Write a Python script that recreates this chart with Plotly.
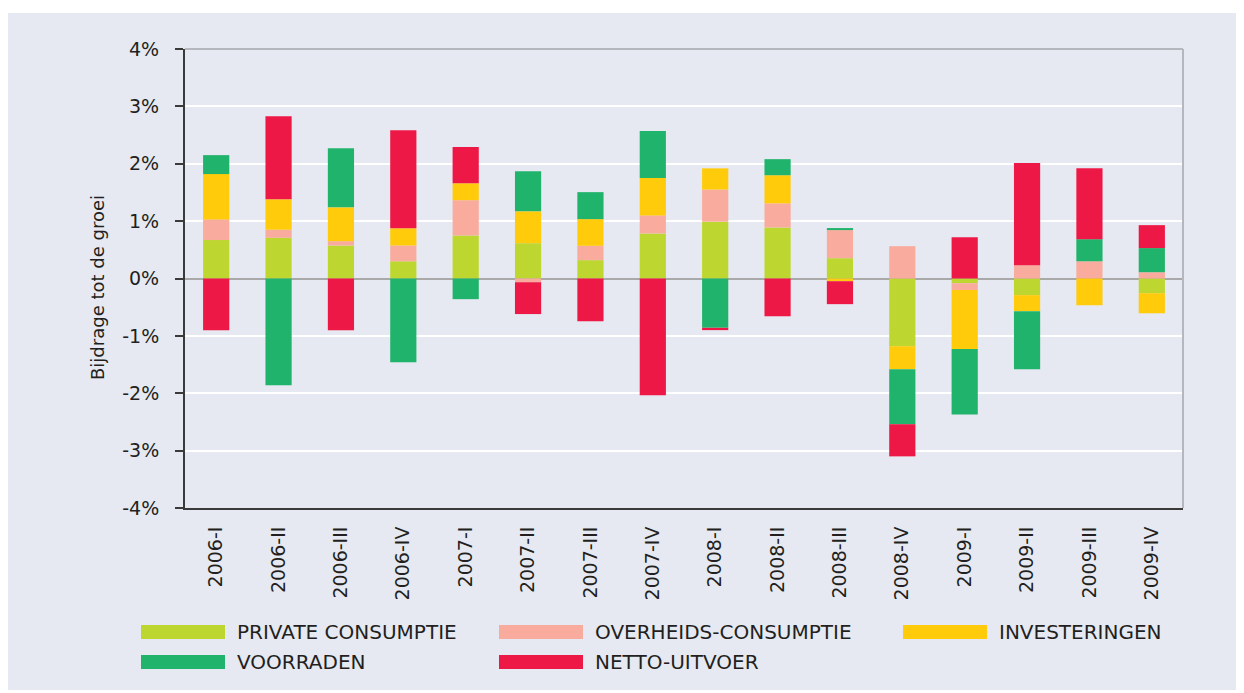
import plotly.graph_objects as go

quarters = ["2006-I", "2006-II", "2006-III", "2006-IV",
            "2007-I", "2007-II", "2007-III", "2007-IV",
            "2008-I", "2008-II", "2008-III", "2008-IV",
            "2009-I", "2009-II", "2009-III", "2009-IV"]

private_consumptie = [0.67, 0.71, 0.575, 0.30, 0.75, 0.615, 0.32, 0.785,
                      0.99, 0.89, 0.354, -1.18, -0.082, -0.29, 0.0, -0.256]
overheids_consumptie = [0.36, 0.14, 0.075, 0.275, 0.615, -0.065, 0.25, 0.315,
                        0.56, 0.42, 0.49, 0.563, -0.118, 0.232, 0.30, 0.11]
investeringen = [0.79, 0.53, 0.59, 0.30, 0.295, 0.555, 0.465, 0.65,
                 0.37, 0.49, -0.047, -0.40, -1.03, -0.28, -0.466, -0.35]
voorraden = [0.33, -1.86, 1.03, -1.46, -0.36, 0.70, 0.47, 0.82,
             -0.86, 0.28, 0.035, -0.96, -1.14, -1.01, 0.385, 0.42]
netto_uitvoer = [-0.90, 1.45, -0.90, 1.71, 0.63, -0.555, -0.745, -2.035,
                 -0.04, -0.66, -0.40, -0.56, 0.72, 1.78, 1.235, 0.40]

series_names = ["PRIVATE CONSUMPTIE", "OVERHEIDS-CONSUMPTIE", "INVESTERINGEN",
                "VOORRADEN", "NETTO-UITVOER"]
series_values = [private_consumptie, overheids_consumptie, investeringen,
                 voorraden, netto_uitvoer]
colors = ["#BDD730", "#F9AB9D", "#FFCB0B", "#20B36B", "#EE1846"]

y_ticks = [-4, -3, -2, -1, 0, 1, 2, 3, 4]
y_ticklabels = ["-4%", "-3%", "-2%", "-1%", "0%", "1%", "2%", "3%", "4%"]

# the page body has an 8px default margin: work in page pixels, convert
OFF = 8
W, H = 1244 - OFF, 693 - OFF
L, R, T, B = 185 - OFF, 1183 - OFF, 49 - OFF, 508 - OFF
PW, PH = R - L, B - T


def px(x):
    return (x - OFF - L) / PW


def py(y):
    return (B - (y - OFF)) / PH


FONT = "DejaVu Sans"
TXT = "#231F20"

fig = go.Figure()
for name, vals, col in zip(series_names, series_values, colors):
    fig.add_trace(go.Bar(x=quarters, y=vals, name=name, marker_color=col,
                         marker_line_width=0, showlegend=False))

shapes = [
    # outer panel background
    dict(type="rect", xref="paper", yref="paper", x0=px(0), x1=px(1237),
         y0=py(690), y1=py(13), fillcolor="#E6E9F1", line_width=0, layer="below"),
    # top and right borders of plot area
    dict(type="line", xref="paper", yref="paper", x0=0, x1=1, y0=1, y1=1,
         line=dict(color="#B4B7BD", width=2)),
    dict(type="line", xref="paper", yref="paper", x0=1, x1=1, y0=0, y1=1,
         line=dict(color="#B4B7BD", width=2)),
]

annotations = [
    dict(text="Bijdrage tot de groei", xref="paper", yref="paper",
         x=px(97), y=py(288), textangle=-90, showarrow=False,
         font=dict(family=FONT, size=18, color=TXT), xanchor="center", yanchor="middle"),
]

legend_pos = [(141, 632), (499, 632), (903, 632), (141, 662), (499, 662)]
for (lx, ly), name, col in zip(legend_pos, series_names, colors):
    shapes.append(dict(type="rect", xref="paper", yref="paper",
                       x0=px(lx), x1=px(lx + 84), y0=py(ly + 7), y1=py(ly - 7),
                       fillcolor=col, line_width=0))
    annotations.append(dict(text=name, xref="paper", yref="paper",
                            x=px(lx + 94), y=py(ly), xanchor="left", yanchor="middle",
                            showarrow=False, font=dict(family=FONT, size=20, color=TXT)))

fig.update_layout(
    width=W, height=H,
    margin=dict(l=L, r=W - R, t=T, b=H - B, pad=0),
    paper_bgcolor="white",
    plot_bgcolor="#D2D9E3",
    barmode="relative",
    bargap=0.58,
    showlegend=False,
    shapes=shapes,
    annotations=annotations,
    font=dict(family=FONT, color=TXT),
    xaxis=dict(
        tickangle=-90, showgrid=False, ticks="",
        tickfont=dict(family=FONT, size=19, color=TXT),
        showline=True, linecolor="#3a3a3a", linewidth=2,
        ticklabelstandoff=9,
    ),
    yaxis=dict(
        range=[-4, 4], tickvals=y_ticks, ticktext=y_ticklabels,
        ticks="outside", ticklen=8, tickwidth=2, tickcolor="#3a3a3a",
        tickfont=dict(family=FONT, size=19, color=TXT),
        showline=True, linecolor="#3a3a3a", linewidth=2,
        showgrid=True, gridcolor="white", gridwidth=2,
        zeroline=True, zerolinecolor="#A9A9A9", zerolinewidth=2,
        ticklabelstandoff=12,
    ),
)

fig.write_html("out.html")
